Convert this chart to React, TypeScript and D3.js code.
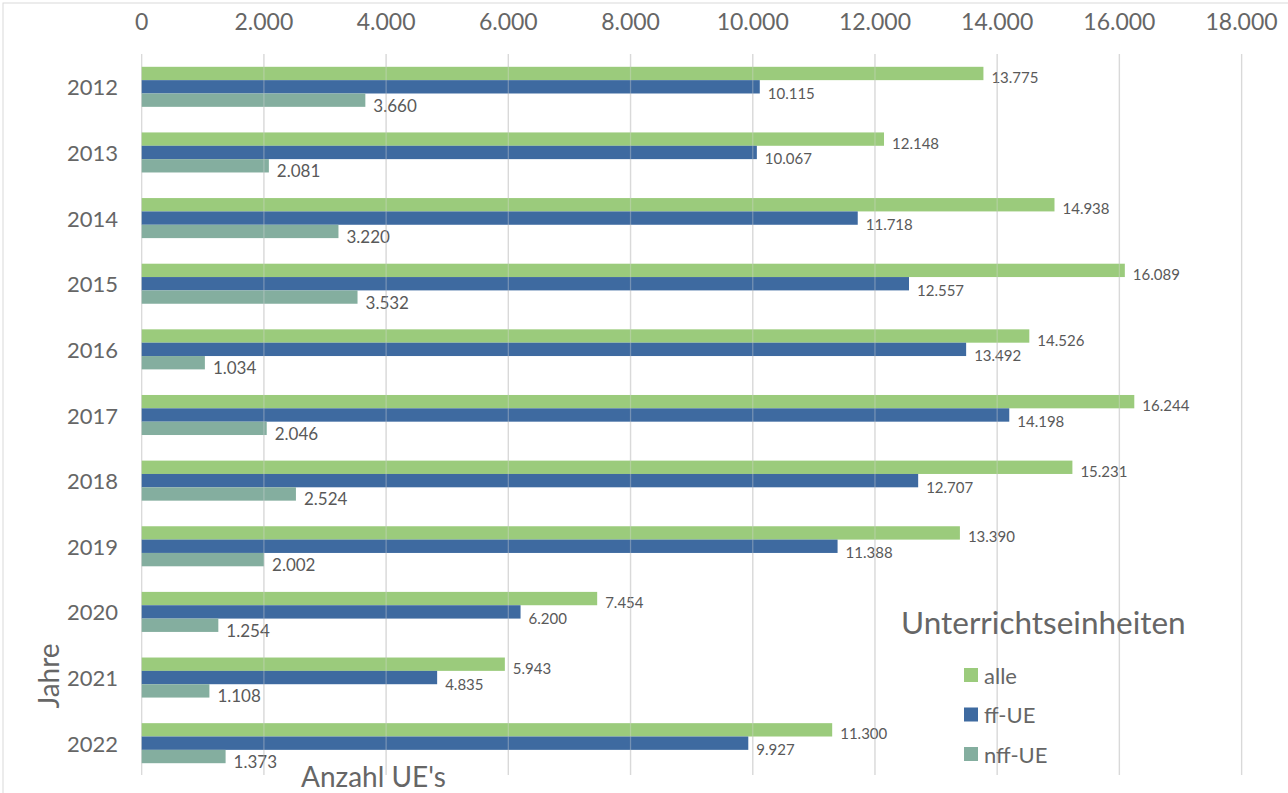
import * as d3 from 'd3';
import { useEffect, useRef } from 'react';

const years = ['2012', '2013', '2014', '2015', '2016', '2017', '2018', '2019', '2020', '2021', '2022'];
const alle = [13775, 12148, 14938, 16089, 14526, 16244, 15231, 13390, 7454, 5943, 11300];
const ffUE = [10115, 10067, 11718, 12557, 13492, 14198, 12707, 11388, 6200, 4835, 9927];
const nffUE = [3660, 2081, 3220, 3532, 1034, 2046, 2524, 2002, 1254, 1108, 1373];
const seriesNames = ['alle', 'ff-UE', 'nff-UE'];
const xTicks = [0, 2000, 4000, 6000, 8000, 10000, 12000, 14000, 16000, 18000];

const colors = ['#9bcb7c', '#3e6aa0', '#84ae9f'];
const textCol = '#666666';
const font = 'Lato, "Open Sans", sans-serif';

export default function App() {
  const ref = useRef<SVGSVGElement>(null);

  useEffect(() => {
    const W = 1288, H = 793;
    const svg = d3.select(ref.current);
    svg.selectAll('*').remove();

    svg.append('rect')
      .attr('x', 3).attr('y', 3)
      .attr('width', W).attr('height', H)
      .attr('fill', '#fff')
      .attr('stroke', '#d9d9d9');

    const fmt = (v: number) => d3.format(',')(v).replace(/,/g, '.');

    const x = d3.scaleLinear().domain([0, 18000]).range([141.7, 1241.6]);
    const y = d3.scaleBand().domain(years).range([54, 776]).paddingInner(0.39).paddingOuter(0.195);
    const inner = d3.scaleBand().domain(seriesNames).range([0, y.bandwidth()]);

    const data = years.map((yr, i) => ({ yr, vals: [alle[i], ffUE[i], nffUE[i]] }));

    // gridlines behind
    svg.append('g').selectAll('line').data(xTicks).join('line')
      .attr('x1', d => x(d)).attr('x2', d => x(d))
      .attr('y1', 54).attr('y2', 775)
      .attr('stroke', '#d9d9d9')
      .attr('stroke-width', 1.3);

    // bars
    const groups = svg.append('g').selectAll('g').data(data).join('g')
      .attr('transform', d => `translate(0,${y(d.yr)})`);

    groups.selectAll('rect').data(d => d.vals.map((v, k) => ({ v, k }))).join('rect')
      .attr('x', x(0))
      .attr('y', d => inner(seriesNames[d.k])!)
      .attr('width', d => x(d.v) - x(0))
      .attr('height', inner.bandwidth())
      .attr('fill', d => colors[d.k]);

    // faint gridlines showing through the bars
    svg.append('g').selectAll('line').data(xTicks.slice(1)).join('line')
      .attr('x1', d => x(d)).attr('x2', d => x(d))
      .attr('y1', 54).attr('y2', 775)
      .attr('stroke', '#d9d9d9')
      .attr('stroke-width', 1.3)
      .attr('stroke-opacity', 0.35);

    // data labels
    const labelDy = [3.5, 6, 5];
    const labelSize = [15, 15, 17];
    groups.selectAll('text').data(d => d.vals.map((v, k) => ({ v, k }))).join('text')
      .attr('x', d => x(d.v) + 8)
      .attr('y', d => inner(seriesNames[d.k])! + inner.bandwidth() / 2 + labelDy[d.k])
      .attr('dominant-baseline', 'central')
      .attr('font-family', font)
      .attr('font-size', d => labelSize[d.k])
      .attr('fill', '#595959')
      .text(d => fmt(d.v));

    // x axis tick labels (top)
    svg.append('g').selectAll('text').data(xTicks).join('text')
      .attr('x', d => x(d))
      .attr('y', 21)
      .attr('text-anchor', 'middle')
      .attr('dominant-baseline', 'central')
      .attr('font-family', font)
      .attr('font-size', 23)
      .attr('fill', textCol)
      .text(d => fmt(d));

    // y axis labels
    svg.append('g').selectAll('text').data(years).join('text')
      .attr('x', 118)
      .attr('y', d => y(d)! + y.bandwidth() / 2)
      .attr('text-anchor', 'end')
      .attr('dominant-baseline', 'central')
      .attr('font-family', font)
      .attr('font-size', 22)
      .attr('fill', textCol)
      .text(d => d);

    // axis titles
    svg.append('text')
      .attr('transform', 'translate(48,676) rotate(-90)')
      .attr('text-anchor', 'middle')
      .attr('dominant-baseline', 'central')
      .attr('font-family', font)
      .attr('font-size', 28)
      .attr('fill', textCol)
      .text('Jahre');

    svg.append('text')
      .attr('x', 301)
      .attr('y', 776)
      .attr('dominant-baseline', 'central')
      .attr('font-family', font)
      .attr('font-size', 28)
      .attr('fill', textCol)
      .text("Anzahl UE's");

    // legend
    svg.append('text')
      .attr('x', 901)
      .attr('y', 622)
      .attr('dominant-baseline', 'central')
      .attr('font-family', font)
      .attr('font-size', 31.5)
      .attr('fill', textCol)
      .text('Unterrichtseinheiten');

    const leg = svg.append('g').selectAll('g').data(seriesNames).join('g')
      .attr('transform', (_d, i) => `translate(964,${675 + i * 39.5})`);
    leg.append('rect')
      .attr('x', 0).attr('y', -7)
      .attr('width', 14).attr('height', 14)
      .attr('fill', (_d, i) => colors[i]);
    leg.append('text')
      .attr('x', 20)
      .attr('y', 0)
      .attr('dominant-baseline', 'central')
      .attr('font-family', font)
      .attr('font-size', 22)
      .attr('fill', textCol)
      .text(d => d);
  }, []);

  return (
    <svg ref={ref} width={1288} height={793} style={{ position: 'absolute', left: 0, top: 0 }} />
  );
}
